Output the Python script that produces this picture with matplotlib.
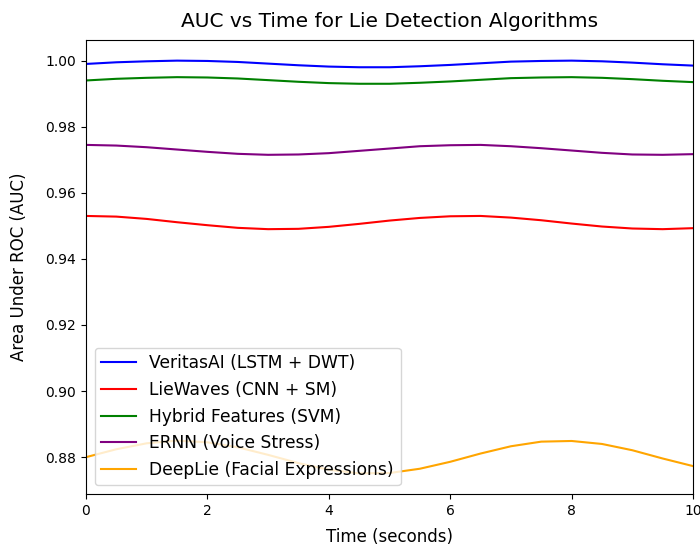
import matplotlib
matplotlib.use("Agg")
import matplotlib.pyplot as plt

# time points (seconds)
time = [0.0, 0.5, 1.0, 1.5, 2.0, 2.5, 3.0, 3.5, 4.0, 4.5, 5.0,
        5.5, 6.0, 6.5, 7.0, 7.5, 8.0, 8.5, 9.0, 9.5, 10.0]

# AUC values
veritas = [0.9990, 0.9995, 0.9998, 1.0000, 0.9999, 0.9996, 0.9991, 0.9986, 0.9982, 0.9980, 0.9980,
           0.9983, 0.9987, 0.9992, 0.9997, 0.9999, 1.0000, 0.9998, 0.9994, 0.9989, 0.9985]
liewaves = [0.9530, 0.9528, 0.9521, 0.9511, 0.9502, 0.9494, 0.9490, 0.9491, 0.9497, 0.9506, 0.9516,
            0.9524, 0.9529, 0.9530, 0.9525, 0.9517, 0.9507, 0.9498, 0.9492, 0.9490, 0.9493]
hybrid = [0.9940, 0.9945, 0.9948, 0.9950, 0.9949, 0.9946, 0.9941, 0.9936, 0.9932, 0.9930, 0.9930,
          0.9933, 0.9937, 0.9942, 0.9947, 0.9949, 0.9950, 0.9948, 0.9944, 0.9939, 0.9935]
ernn = [0.9745, 0.9743, 0.9738, 0.9731, 0.9724, 0.9718, 0.9715, 0.9716, 0.9720, 0.9727, 0.9734,
        0.9741, 0.9744, 0.9745, 0.9741, 0.9735, 0.9728, 0.9721, 0.9716, 0.9715, 0.9717]
deeplie = [0.8800, 0.8824, 0.8842, 0.8850, 0.8845, 0.8830, 0.8807, 0.8782, 0.8762, 0.8751, 0.8752,
           0.8765, 0.8786, 0.8811, 0.8833, 0.8847, 0.8849, 0.8840, 0.8821, 0.8796, 0.8773]

labels = ['VeritasAI (LSTM + DWT)', 'LieWaves (CNN + SM)', 'Hybrid Features (SVM)',
          'ERNN (Voice Stress)', 'DeepLie (Facial Expressions)']
colors = ['blue', 'red', 'green', 'purple', 'orange']
series = [veritas, liewaves, hybrid, ernn, deeplie]

fig = plt.figure(figsize=(7, 5.46), dpi=100)
ax = fig.add_axes([86 / 700, 1 - 494 / 546, (693 - 86) / 700, (494 - 40) / 546])

for s, lab, c in zip(series, labels, colors):
    ax.plot(time, s, label=lab, color=c)

ax.set_xlim(0, 10)
ax.set_title('AUC vs Time for Lie Detection Algorithms', fontsize=14.5, pad=9.5)
ax.set_xlabel('Time (seconds)', fontsize=12, labelpad=7.5)
ax.set_ylabel('Area Under ROC (AUC)', fontsize=12, labelpad=12.5)
ax.legend(loc='lower left', fontsize=12.3)

fig.savefig('out.png', dpi=100)
